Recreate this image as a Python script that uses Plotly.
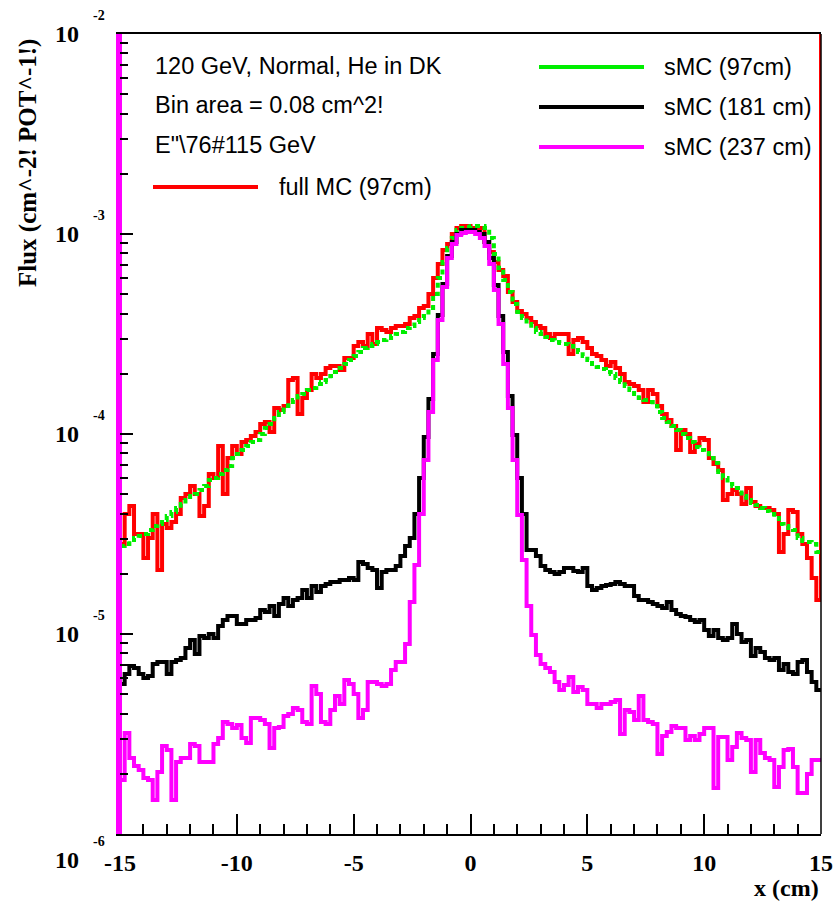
import numpy as np
import plotly.graph_objects as go

# ---------------- data (log10 of flux per 0.2 cm bin, x from -15 to 15) ----------------
X_MIN, X_MAX, N_BINS = -15.0, 15.0, 150
Y_MIN, Y_MAX = 1e-6, 1e-2

full_mc_97_log = [
    -4.55, -4.40, -4.36, -4.50, -4.50, -4.62, -4.52, -4.40, -4.68, -4.45,
    -4.47, -4.44, -4.40, -4.32, -4.30, -4.26, -4.30, -4.41, -4.36, -4.20,
    -4.22, -4.06, -4.30, -4.12, -4.06, -4.10, -4.04, -4.03, -4.01, -3.99,
    -3.95, -3.94, -3.99, -3.87, -3.88, -3.86, -3.73, -3.72, -3.90, -3.82,
    -3.78, -3.70, -3.72, -3.70, -3.67, -3.66, -3.66, -3.68, -3.62, -3.62,
    -3.56, -3.54, -3.56, -3.50, -3.55, -3.47, -3.48, -3.49, -3.47, -3.46,
    -3.46, -3.45, -3.42, -3.41, -3.37, -3.36, -3.30, -3.22, -3.15, -3.08,
    -3.05, -3.00, -2.97, -2.96, -2.96, -2.97, -2.97, -2.97, -3.04, -3.09,
    -3.14, -3.18, -3.21, -3.29, -3.34, -3.385, -3.40, -3.42, -3.44, -3.46,
    -3.47, -3.50, -3.52, -3.50, -3.50, -3.50, -3.60, -3.53, -3.52, -3.54,
    -3.57, -3.60, -3.61, -3.63, -3.66, -3.64, -3.67, -3.70, -3.74, -3.75,
    -3.76, -3.78, -3.84, -3.78, -3.80, -3.86, -3.90, -3.93, -3.96, -4.08,
    -3.98, -4.00, -4.09, -4.05, -4.02, -4.03, -4.12, -4.15, -4.18, -4.33,
    -4.30, -4.28, -4.30, -4.35, -4.27, -4.34, -4.36, -4.37, -4.37, -4.38,
    -4.40, -4.59, -4.50, -4.38, -4.39, -4.50, -4.55, -4.62, -4.72, -4.83]

smc_97_log = [
    -4.56, -4.55, -4.53, -4.52, -4.51, -4.50, -4.48, -4.46, -4.45, -4.43,
    -4.41, -4.39, -4.37, -4.35, -4.33, -4.31, -4.30, -4.28, -4.26, -4.23,
    -4.22, -4.20, -4.18, -4.16, -4.12, -4.10, -4.08, -4.06, -4.04, -4.03,
    -4.00, -3.97, -3.95, -3.92, -3.89, -3.86, -3.84, -3.83, -3.81, -3.80,
    -3.78, -3.77, -3.75, -3.74, -3.73, -3.71, -3.69, -3.67, -3.65, -3.63,
    -3.61, -3.59, -3.57, -3.56, -3.55, -3.54, -3.53, -3.52, -3.51, -3.50,
    -3.49, -3.47, -3.46, -3.44, -3.42, -3.41, -3.37, -3.30, -3.22, -3.14,
    -3.07, -3.02, -2.98, -2.97, -2.965, -2.96, -2.96, -2.96, -2.97, -3.02,
    -3.10, -3.17, -3.23, -3.29, -3.35, -3.39, -3.42, -3.45, -3.47, -3.49,
    -3.50, -3.515, -3.53, -3.54, -3.545, -3.55, -3.56, -3.58, -3.59, -3.61,
    -3.63, -3.65, -3.665, -3.675, -3.69, -3.70, -3.72, -3.74, -3.76, -3.78,
    -3.80, -3.82, -3.83, -3.84, -3.86, -3.89, -3.92, -3.94, -3.96, -3.98,
    -4.00, -4.02, -4.04, -4.065, -4.08, -4.095, -4.12, -4.145, -4.19, -4.22,
    -4.25, -4.26, -4.27, -4.31, -4.33, -4.345, -4.355, -4.37, -4.385, -4.40,
    -4.42, -4.45, -4.46, -4.47, -4.48, -4.52, -4.535, -4.54, -4.55, -4.59]

smc_181_log = [
    -5.25, -5.20, -5.16, -5.17, -5.20, -5.22, -5.21, -5.15, -5.14, -5.14,
    -5.20, -5.14, -5.13, -5.12, -5.07, -5.03, -5.10, -5.01, -5.02, -5.00,
    -5.02, -4.96, -4.93, -4.91, -4.91, -4.95, -4.95, -4.93, -4.93, -4.92,
    -4.88, -4.89, -4.86, -4.91, -4.85, -4.82, -4.86, -4.83, -4.82, -4.78,
    -4.82, -4.76, -4.79, -4.76, -4.75, -4.74, -4.74, -4.73, -4.73, -4.72,
    -4.73, -4.64, -4.65, -4.67, -4.68, -4.77, -4.69, -4.68, -4.68, -4.66,
    -4.61, -4.56, -4.52, -4.40, -4.22, -4.015, -3.825, -3.60, -3.405, -3.25,
    -3.11, -3.04, -3.00, -2.98, -2.98, -2.98, -2.99, -3.00, -3.04, -3.12,
    -3.255, -3.41, -3.59, -3.81, -4.005, -4.22, -4.40, -4.58, -4.58, -4.61,
    -4.66, -4.68, -4.69, -4.70, -4.69, -4.67, -4.67, -4.685, -4.69, -4.67,
    -4.76, -4.78, -4.77, -4.76, -4.755, -4.75, -4.74, -4.75, -4.76, -4.76,
    -4.81, -4.83, -4.83, -4.84, -4.85, -4.86, -4.87, -4.84, -4.88, -4.90,
    -4.91, -4.915, -4.93, -4.94, -4.93, -4.98, -5.01, -4.98, -5.02, -5.03,
    -5.02, -4.95, -5.00, -5.04, -5.03, -5.11, -5.07, -5.09, -5.12, -5.13,
    -5.12, -5.18, -5.15, -5.19, -5.20, -5.14, -5.13, -5.19, -5.24, -5.28]

smc_237_log = [
    -5.73, -5.495, -5.62, -5.66, -5.68, -5.72, -5.73, -5.83, -5.69, -5.56,
    -5.58, -5.83, -5.64, -5.62, -5.62, -5.55, -5.56, -5.64, -5.64, -5.64,
    -5.55, -5.52, -5.44, -5.45, -5.47, -5.455, -5.52, -5.545, -5.42, -5.42,
    -5.43, -5.45, -5.57, -5.47, -5.465, -5.41, -5.40, -5.37, -5.38, -5.44,
    -5.45, -5.26, -5.30, -5.44, -5.45, -5.38, -5.31, -5.35, -5.23, -5.25,
    -5.30, -5.42, -5.38, -5.24, -5.24, -5.25, -5.26, -5.25, -5.18, -5.14,
    -5.14, -5.05, -4.84, -4.655, -4.40, -4.13, -3.89, -3.63, -3.43, -3.265,
    -3.12, -3.05, -3.005, -2.995, -2.99, -2.99, -3.00, -3.02, -3.06, -3.15,
    -3.28, -3.45, -3.65, -3.87, -4.13, -4.405, -4.63, -4.86, -5.005, -5.105,
    -5.15, -5.17, -5.19, -5.24, -5.28, -5.255, -5.215, -5.29, -5.265, -5.28,
    -5.35, -5.35, -5.37, -5.35, -5.35, -5.34, -5.33, -5.50, -5.38, -5.39,
    -5.43, -5.31, -5.43, -5.44, -5.45, -5.60, -5.51, -5.49, -5.46, -5.47,
    -5.47, -5.53, -5.51, -5.53, -5.50, -5.47, -5.47, -5.77, -5.515, -5.515,
    -5.63, -5.565, -5.495, -5.52, -5.53, -5.69, -5.53, -5.595, -5.62, -5.63,
    -5.765, -5.665, -5.58, -5.575, -5.665, -5.795, -5.795, -5.70, -5.63, -5.63]

x_ticks = [-15, -10, -5, 0, 5, 10, 15]
y_decades = [-6, -5, -4, -3, -2]

legend_left_lines = ["120 GeV, Normal, He in DK", "Bin area = 0.08 cm^2!", 'E"\\76#115 GeV']

# ---------------- figure ----------------
edges = np.linspace(X_MIN, X_MAX, N_BINS + 1)


def step(logvals):
    v = 10.0 ** np.asarray(logvals)
    return list(edges), list(np.append(v, v[-1]))


RED, GREEN, BLACK, MAGENTA = "#ff0000", "#00ee00", "#000000", "#ff00ff"
W, H = 834, 906
ML, MR, MT, MB = 120, 13, 34, 72
PW, PH = W - ML - MR, H - MT - MB

fig = go.Figure()

xr, yr = step(full_mc_97_log)
xr = xr + [X_MAX]
yr = yr + [Y_MAX]
fig.add_trace(go.Scatter(x=xr, y=yr, mode="lines", line=dict(color=RED, width=4, shape="hv"),
                         name="full MC (97cm)", showlegend=False))

xg, yg = step(smc_97_log)
fig.add_trace(go.Scatter(x=xg, y=yg, mode="lines",
                         line=dict(color=GREEN, width=4, shape="hv", dash="5px,4px"),
                         name="sMC (97cm)", showlegend=False))

xb, yb = step(smc_181_log)
fig.add_trace(go.Scatter(x=xb, y=yb, mode="lines", line=dict(color=BLACK, width=4, shape="hv"),
                         name="sMC (181 cm)", showlegend=False))

xm, ym = step(smc_237_log)
xm = [X_MIN, X_MIN] + xm
ym = [Y_MIN, Y_MAX] + ym
fig.add_trace(go.Scatter(x=xm, y=ym, mode="lines", line=dict(color=MAGENTA, width=4, shape="hv"),
                         name="sMC (237 cm)", showlegend=False))

AX_FONT = dict(family="Liberation Serif", size=24, color="black", weight="bold")
TXT_FONT = dict(family="Liberation Sans", size=23.5, color="black")

minor_y = [k * 10.0 ** e for e in y_decades[:-1] for k in range(2, 10)]

fig.update_layout(
    width=W, height=H,
    margin=dict(l=ML, r=MR, t=MT, b=MB, autoexpand=False),
    plot_bgcolor="white", paper_bgcolor="white",
    showlegend=False,
    xaxis=dict(
        range=[X_MIN, X_MAX], showgrid=False, zeroline=False, automargin=False,
        showline=True, mirror=True, linecolor="black", linewidth=2,
        ticks="inside", ticklen=20, tickwidth=1.5, tickcolor="black",
        tickvals=x_ticks, ticktext=[str(t) for t in x_ticks],
        tickfont=AX_FONT, ticklabelstandoff=6,
        minor=dict(dtick=1, ticks="inside", ticklen=10, tickwidth=1.5, tickcolor="black", showgrid=False),
    ),
    yaxis=dict(
        type="log", range=[np.log10(Y_MIN), np.log10(Y_MAX)], showgrid=False, zeroline=False,
        automargin=False,
        showline=True, mirror=False, linecolor=MAGENTA, linewidth=4,
        ticks="inside", ticklen=13, tickwidth=1.5, tickcolor="black",
        tickvals=[10.0 ** e for e in y_decades], showticklabels=False,
        minor=dict(tickvals=minor_y, ticks="inside", ticklen=8, tickwidth=1.5, tickcolor="black", showgrid=False),
    ),
)

# right frame border
fig.add_shape(type="line", xref="paper", yref="paper", x0=1, x1=1, y0=0, y1=1,
              line=dict(color="black", width=1.5))


def px2paper(px, py):
    return (px - ML) / PW, (H - MB - py) / PH


# y-axis decade labels, ROOT style "10" with raised exponent (lowest one set lower)
label_shift = {-6: -26}
for e in y_decades:
    s = label_shift.get(e, 0)
    fig.add_annotation(text="10", xref="paper", yref="y", x=(81 - ML) / PW, y=e,
                       xanchor="right", yanchor="middle", yshift=s, showarrow=False,
                       font=dict(family="Liberation Serif", size=24, color="black", weight="bold"))
    fig.add_annotation(text=str(e), xref="paper", yref="y", x=(91 - ML) / PW, y=e,
                       xanchor="left", yanchor="middle", yshift=s + 19, showarrow=False,
                       font=dict(family="Liberation Serif", size=14, color="black", weight="bold"))

# axis titles
fig.add_annotation(text="x (cm)", xref="paper", yref="paper", x=1.0, y=px2paper(0, 888)[1],
                   xanchor="right", yanchor="middle", showarrow=False, font=AX_FONT)
fig.add_annotation(text="Flux (cm^-2! POT^-1!)", xref="paper", yref="paper",
                   x=px2paper(28, 0)[0], y=px2paper(0, 37)[1],
                   xanchor="center", yanchor="top", textangle=-90, showarrow=False,
                   font=dict(family="Liberation Serif", size=25, color="black", weight="bold"))

# left text block
for txt, py in zip(legend_left_lines, [66, 105, 145]):
    xp, yp = px2paper(153, py)
    fig.add_annotation(text=txt, xref="paper", yref="paper", x=xp, y=yp, xanchor="left",
                       yanchor="middle", showarrow=False, font=TXT_FONT)

# legend entries
legend_entries = [
    ("full MC (97cm)", RED, 153, 258, 277, 187),
    ("sMC (97cm)", GREEN, 539, 644, 662, 67),
    ("sMC (181 cm)", BLACK, 539, 644, 662, 107),
    ("sMC (237 cm)", MAGENTA, 539, 644, 662, 147),
]
for name, col, lx0, lx1, tx, py in legend_entries:
    x0, yp = px2paper(lx0, py)
    x1, _ = px2paper(lx1, py)
    xt, _ = px2paper(tx, py)
    fig.add_shape(type="line", xref="paper", yref="paper", x0=x0, x1=x1, y0=yp, y1=yp,
                  line=dict(color=col, width=4))
    fig.add_annotation(text=name, xref="paper", yref="paper", x=xt, y=yp, xanchor="left",
                       yanchor="middle", showarrow=False, font=TXT_FONT)

fig.write_html("out.html")
